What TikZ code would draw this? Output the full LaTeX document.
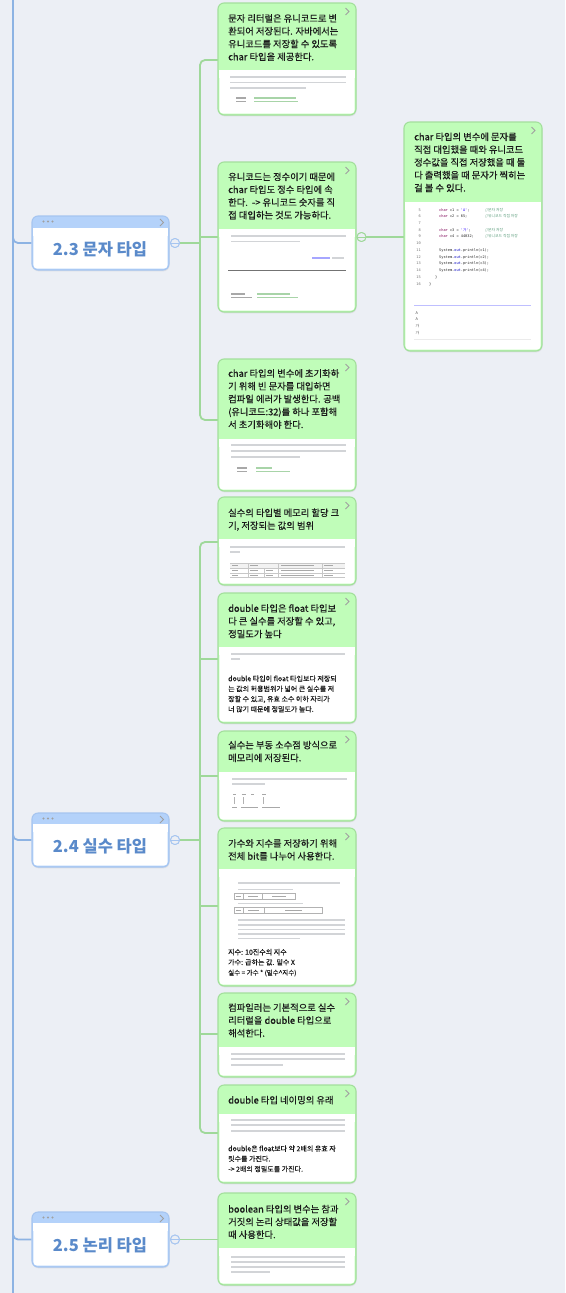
\documentclass[tikz,border=0pt]{standalone}
\usepackage{fontspec}
\setmainfont{Noto Sans CJK KR}
\newfontfamily\hdfont{Noto Sans CJK KR}[FakeBold=0.45]
\newfontfamily\smfont{Noto Sans CJK KR}[FakeBold=0.3]
\newfontfamily\codemono{DejaVu Sans Mono}
\usetikzlibrary{shadows}
\definecolor{bgc}{HTML}{ECEFF5}
\definecolor{hdrg}{HTML}{C0FDB9}
\definecolor{brdg}{HTML}{A3DF9C}
\definecolor{lineg}{HTML}{9FD89A}
\definecolor{lineb}{HTML}{8DB3E3}
\definecolor{tophdr}{HTML}{B4D2FA}
\definecolor{topbrd}{HTML}{A6C5F0}
\definecolor{toptxt}{HTML}{5A8ACA}
\definecolor{txt}{HTML}{1A1A1A}
\definecolor{blurc}{HTML}{D2D4D7}
\definecolor{blurd}{HTML}{A8A8A8}
\definecolor{blurg}{HTML}{A8D4A8}
\definecolor{codepurple}{HTML}{7F0055}
\definecolor{codeblue}{HTML}{2A00FF}
\definecolor{codegreen}{HTML}{5F9F7F}
\definecolor{codeout}{HTML}{0000C0}
\definecolor{chev}{HTML}{A0A0A0}
\tikzset{
 gbox/.style={draw=brdg, line width=1.1pt, fill=hdrg, rounded corners=6pt, inner sep=0,
   drop shadow={opacity=0.13, shadow xshift=0.5pt, shadow yshift=-1.3pt}},
 tbox/.style={draw=topbrd, line width=1.1pt, fill=tophdr, rounded corners=6pt, inner sep=0,
   drop shadow={opacity=0.13, shadow xshift=0.5pt, shadow yshift=-1.3pt}},
 hd/.style={font=\hdfont\fontsize{9.3}{12.8}\selectfont, text=txt, align=left, anchor=north west, inner sep=0},
 sm/.style={font=\smfont\fontsize{7}{10.2}\selectfont, text=txt, align=left, anchor=north west, inner sep=0},
 ttl/.style={font=\fontsize{16.5}{18}\selectfont\bfseries, text=toptxt, inner sep=0},
 gline/.style={draw=lineg, line width=1.8pt},
 bline/.style={draw=lineb, line width=1.8pt},
 blurl/.style={draw=blurc, line width=1.2pt},
 knobg/.style={circle, draw=lineg, line width=0.9pt, fill=bgc, minimum size=9pt, inner sep=0},
 knobb/.style={circle, draw=topbrd, line width=0.9pt, fill=bgc, minimum size=9pt, inner sep=0},
 code/.style={font=\codemono\fontsize{3.6}{4}\selectfont, inner sep=0, anchor=base west, text=black!85},
 cmt/.style={font=\fontsize{3.8}{4}\selectfont, inner sep=0, anchor=base west, text=codegreen},
 outt/.style={font=\fontsize{3.8}{4}\selectfont, inner sep=0, anchor=base west, text=black!70},
}
\newcommand\GBox[5]{%
  \node[gbox, minimum width=138pt, minimum height={(#5-#3)*1pt}] (#1) at ({#2+69},{(#3+#5)/2}) {};
  \fill[white, rounded corners=4pt] ({#2+1.3},#4) rectangle ({#2+136.7},{#5-1.3});
  \fill[white] ({#2+1.3},#4) rectangle ({#2+136.7},{#4+8});
  \draw[chev, line width=0.8pt] ({#2+127.5},{#3+5}) -- ({#2+131},{#3+8.5}) -- ({#2+127.5},{#3+12});
}
\newcommand\TBox[5]{%
  \node[tbox, minimum width=137pt, minimum height={(#4-#2)*1pt}] (#1) at (100.5,{(#2+#4)/2}) {};
  \fill[white, rounded corners=4pt] (33.3,#3) rectangle (167.7,{#4-1.3});
  \fill[white] (33.3,#3) rectangle (167.7,{#3+8});
  \fill[chev] (43.5,{#2+5.5}) circle (1.1pt) (48,{#2+5.5}) circle (1.1pt) (52.5,{#2+5.5}) circle (1.1pt);
  \draw[chev, line width=0.8pt] (160,{#2+3}) -- (163.5,{#2+6.5}) -- (160,{#2+10});
  \node[ttl] (#1t) at (100,{(#3+#4)/2+0.5}) {#5};
}
\newcommand\HT[4]{\node[hd] (#1) at (#2,{#3-5.61}) {\strut #4};}
\newcommand\ST[4]{\node[sm] (#1) at (#2,{#3-4.64}) {\strut #4};}
\newcommand\BL[3]{\draw[blurl] (#1,#3) -- (#2,#3);}
\newcommand\BLc[4]{\draw[line width=1.1pt, draw=#4] (#1,#3) -- (#2,#3);}
\begin{document}
\begin{tikzpicture}[x=1pt,y=-1pt]
\fill[bgc] (0,0) rectangle (565,1293);
\useasboundingbox (0,0) rectangle (565,1293);

% ---------- coordinates for connectors ----------
\coordinate (sTop) at (13,0);
\coordinate (sBot) at (13,1293);
\coordinate (b1in) at (218,60);
\coordinate (b2in) at (218,237);
\coordinate (b3in) at (218,420);
\coordinate (j23) at (200,243);
\coordinate (j23b) at (200,237);
\coordinate (b4in) at (218,542);
\coordinate (b5in) at (218,659);
\coordinate (b6in) at (218,776);
\coordinate (b7in) at (218,906);
\coordinate (b8in) at (218,1034);
\coordinate (b9in) at (218,1133);
\coordinate (j24) at (200,840);
\coordinate (j5) at (200,659);
\coordinate (j6) at (200,776);
\coordinate (j7) at (200,906);
\coordinate (j8) at (200,1034);
\coordinate (b10in) at (218,1239.5);
\coordinate (rbin) at (404,237);

% ---------- spine ----------
\draw[bline] (sTop) -- (sBot);

% ---------- knobs ----------
\node[knobb] (c23) at (175,243) {};
\node[knobb] (c24) at (175,840) {};
\node[knobb] (c25) at (175,1239.5) {};
\node[knobg] (cb2) at (361.5,237) {};

% ---------- topic boxes ----------
\TBox{T23}{216}{228}{270}{2.3 문자 타입}
\TBox{T24}{813}{824}{867}{2.4 실수 타입}
\TBox{T25}{1212}{1223}{1267}{2.5 논리 타입}

\draw[bline, rounded corners=5pt] (13,235) |- (T23.west);
\draw[bline, rounded corners=5pt] (13,832) |- (T24.west);
\draw[bline, rounded corners=5pt] (13,1231) |- (T25.west);

% ---------- green connectors ----------
\draw[gline] (c23) -- (j23);
\draw[gline, rounded corners=5pt] (b1in) -| (200,420) -- (b3in);
\draw[gline] (j23b) -- (b2in);
\draw[gline] (cb2) -- (rbin);
\draw[gline] (c24) -- (j24);
\draw[gline, rounded corners=5pt] (b4in) -| (200,1133) -- (b9in);
\draw[gline] (j5) -- (b5in);
\draw[gline] (j6) -- (b6in);
\draw[gline] (j7) -- (b7in);
\draw[gline] (j8) -- (b8in);
\draw[gline] (c25) -- (b10in);

% redraw knobs on top
\node[knobb] (c23k) at (175,243) {};
\draw[topbrd, line width=0.9pt] (c23k.west) -- (c23k.east);
\node[knobb] (c24k) at (175,840) {};
\draw[topbrd, line width=0.9pt] (c24k.west) -- (c24k.east);
\node[knobb] (c25k) at (175,1239.5) {};
\draw[topbrd, line width=0.9pt] (c25k.west) -- (c25k.east);
\node[knobg] (cb2k) at (361.5,237) {};
\draw[lineg, line width=0.9pt] (cb2k.west) -- (cb2k.east);

% ---------- green boxes ----------
\GBox{b1}{218}{3}{70}{115}
\GBox{b2}{218}{162}{229}{312}
\GBox{rb}{404}{122}{202}{351}
\GBox{b3}{218}{359}{439}{491}
\GBox{b4}{218}{497}{539}{585}
\GBox{b5}{218}{593}{647}{723}
\GBox{b6}{218}{731}{772}{821}
\GBox{b7}{218}{828}{869}{986}
\GBox{b8}{218}{993}{1047}{1077}
\GBox{b9}{218}{1085}{1114}{1183}
\GBox{b10}{218}{1193}{1248}{1285}

% ---------- header texts ----------
\HT{h1}{228}{18.3}{문자 리터럴은 유니코드로 변\\환되어 저장된다. 자바에서는\\유니코드를 저장할 수 있도록\\char 타입을 제공한다.}
\HT{h2}{228}{176.7}{유니코드는 정수이기 때문에\\char 타입도 정수 타입에 속\\한다.\ \ -> 유니코드 숫자를 직\\접 대입하는 것도 가능하다.}
\HT{hr}{414}{136.7}{char 타입의 변수에 문자를\\직접 대입했을 때와 유니코드\\정수값을 직접 저장했을 때 둘\\다 출력했을 때 문자가 찍히는\\걸 볼 수 있다.}
\HT{h3}{228}{373.3}{char 타입의 변수에 초기화하\\기 위해 빈 문자를 대입하면\\컴파일 에러가 발생한다. 공백\\(유니코드:32)를 하나 포함해\\서 초기화해야 한다.}
\HT{h4}{228}{512.7}{실수의 타입별 메모리 할당 크\\기, 저장되는 값의 범위}
\HT{h5}{228}{608.3}{double 타입은 float 타입보\\다 큰 실수를 저장할 수 있고,\\정밀도가 높다}
\HT{h6}{228}{745}{실수는 부동 소수점 방식으로\\메모리에 저장된다.}
\HT{h7}{228}{843.3}{가수와 지수를 저장하기 위해\\전체 bit를 나누어 사용한다.}
\HT{h8}{228}{1007.5}{컴파일러는 기본적으로 실수\\리터럴을 double 타입으로\\해석한다.}
\HT{h9}{228}{1100}{double 타입 네이밍의 유래}
\HT{h10}{228}{1209}{boolean 타입의 변수는 참과\\거짓의 논리 상태값을 저장할\\때 사용한다.}

% ---------- body contents ----------
% b1
\BL{230}{346}{77}\BL{230}{346}{82.5}\BL{230}{306}{88}
\BLc{236}{246}{98}{blurd}\BLc{254}{296}{98}{blurg}
\BLc{236}{246}{101.5}{blurd}\BLc{254}{298}{101.5}{blurg}
% b2
\BL{231}{346}{236}\BL{231}{300}{241.5}
\BLc{312}{330}{258}{blue!35}\BLc{332}{344}{258}{blurc}
\draw[black!55, line width=0.7pt] (228,270) -- (346,270);
\BLc{231}{245}{294}{blurd}\BLc{257}{290}{294}{blurg}
\BLc{231}{252}{297.5}{blurd}\BLc{257}{298}{297.5}{blurg}
% right box code
\foreach \n in {5,...,16}
  \node[code, anchor=base east, text=black!55] (ln\n) at (421,{211+(\n-5)*6.73}) {\n};
\node[code] (cl5) at (439,211) {\textcolor{codepurple}{char} c1 = \textcolor{codeblue}{'A'};};
\node[code] (cl6) at (439,217.73) {\textcolor{codepurple}{char} c2 = 65;};
\node[code] (cl8) at (439,231.19) {\textcolor{codepurple}{char} c3 = \textcolor{codeblue}{'{\rmfamily 가}'};};
\node[code] (cl9) at (439,237.92) {\textcolor{codepurple}{char} c4 = 44032;};
\node[code] (cl11) at (439,251.38) {System.\textcolor{codeout}{out}.println(c1);};
\node[code] (cl12) at (439,258.11) {System.\textcolor{codeout}{out}.println(c2);};
\node[code] (cl13) at (439,264.84) {System.\textcolor{codeout}{out}.println(c3);};
\node[code] (cl14) at (439,271.57) {System.\textcolor{codeout}{out}.println(c4);};
\node[code] (cl15) at (435,278.3) {\}};
\node[code] (cl16) at (429,285.03) {\}};
\node[cmt] (cm5) at (485,211) {//문자 저장};
\node[cmt] (cm6) at (485,217.73) {//유니코드 직접 저장};
\node[cmt] (cm8) at (485,231.19) {//문자 저장};
\node[cmt] (cm9) at (485,237.92) {//유니코드 직접 저장};
\draw[blue!25, line width=0.8pt] (414,305.5) -- (531,305.5);
\node[outt] (o1) at (415.5,314) {A};
\node[outt] (o2) at (415.5,320.7) {A};
\node[outt] (o3) at (415.5,327.4) {가};
\node[outt] (o4) at (415.5,334.1) {가};
\draw[black!8, line width=0.6pt] (414,339.5) -- (531,339.5);
% b3
\BL{231}{346}{445}\BL{231}{346}{451}\BL{231}{300}{457}
\BLc{237}{247}{468}{blurd}\BLc{256}{272}{468}{blurg}
\BLc{237}{247}{471.5}{blurd}\BLc{256}{290}{471.5}{blurg}
% b4 table
\BL{230}{345}{547}\BL{230}{240}{552}
\fill[black!5] (230,563) rectangle (345,568.5);
\draw[black!22, line width=0.4pt] (230,563) -- (345,563) (230,568.5) -- (345,568.5) (230,573) -- (345,573) (230,577.5) -- (345,577.5);
\draw[black!22, line width=0.4pt] (248,563) -- (248,577.5) (264,568.5) -- (264,577.5) (278,563) -- (278,577.5) (322,563) -- (322,577.5);
\foreach \yy in {565.8,570.8,575.3}{
  \draw[blurd, line width=0.9pt] (232,\yy) -- (238,\yy) (250,\yy) -- (258,\yy) (281,\yy) -- (314,\yy) (324,\yy) -- (333,\yy);
}
\draw[blurd, line width=0.9pt] (266,570.8) -- (273,570.8) (266,575.3) -- (273,575.3);
% b5
\BL{231}{345}{654}\BL{231}{240}{659}
\ST{s5}{228}{678.5}{double 타입이 float 타입보다 저장되\\는 값의 허용범위가 넓어 큰 실수를 저\\장할 수 있고, 유효 소수 이하 자리가\\너 많기 때문에 정밀도가 높다.}
% b6
\BL{232}{347}{779}\BL{232}{265}{784}
\draw[blurd, line width=1pt] (233,794.5) -- (236,794.5) (241.5,794.5) -- (245.5,794.5) (251,794.5) -- (253.5,794.5) (262,794.5) -- (266,794.5);
\draw[black!30, line width=0.4pt] (234.5,797) -- (234.5,804) (243.5,797) -- (243.5,804) (263.5,797) -- (263.5,804);
\draw[blurd, line width=0.9pt] (232,807) -- (237,807) (241,807) -- (258,807) (262,807) -- (280,807);
% b7
\BL{238}{340}{883}
\BLc{238}{293}{889.5}{blurc}
\draw[black!30, line width=0.4pt] (234,893.5) rectangle (295,899.5) (243.5,893.5) -- (243.5,899.5) (262,893.5) -- (262,899.5);
\draw[blurd, line width=0.8pt] (236,896.5) -- (241,896.5) (248,896.5) -- (258,896.5) (272,896.5) -- (286,896.5);
\BLc{238}{303}{903.5}{blurc}
\draw[black!30, line width=0.4pt] (234,907) rectangle (322,913) (243.5,907) -- (243.5,913) (264,907) -- (264,913);
\draw[blurd, line width=0.8pt] (236,910) -- (241,910) (248,910) -- (259,910) (285,910) -- (302,910);
\BL{238}{345}{920}\BL{238}{345}{925}\BL{238}{345}{929.5}\BL{238}{345}{934}\BL{238}{300}{938.5}
\ST{s7}{228}{952}{지수: 10진수의 지수\\가수: 곱하는 값. 밑수 X\\{\fontsize{6.5}{10.2}\selectfont 실수 = 가수 * (밑수\textasciicircum 지수)}}
% b8
\BL{231}{345}{1054}\BL{231}{345}{1059}\BL{231}{283}{1065}
% b9
\BL{231}{345}{1120}\BL{231}{345}{1125}\BL{231}{345}{1131}
\ST{s9}{228}{1148.5}{double은 float보다 약 2배의 유효 자\\릿수를 가진다.\\-> 2배의 정밀도를 가진다.}
% b10
\BL{231}{345}{1257}\BL{231}{345}{1262}\BL{231}{345}{1267}\BL{231}{270}{1272}
\end{tikzpicture}
\end{document}
